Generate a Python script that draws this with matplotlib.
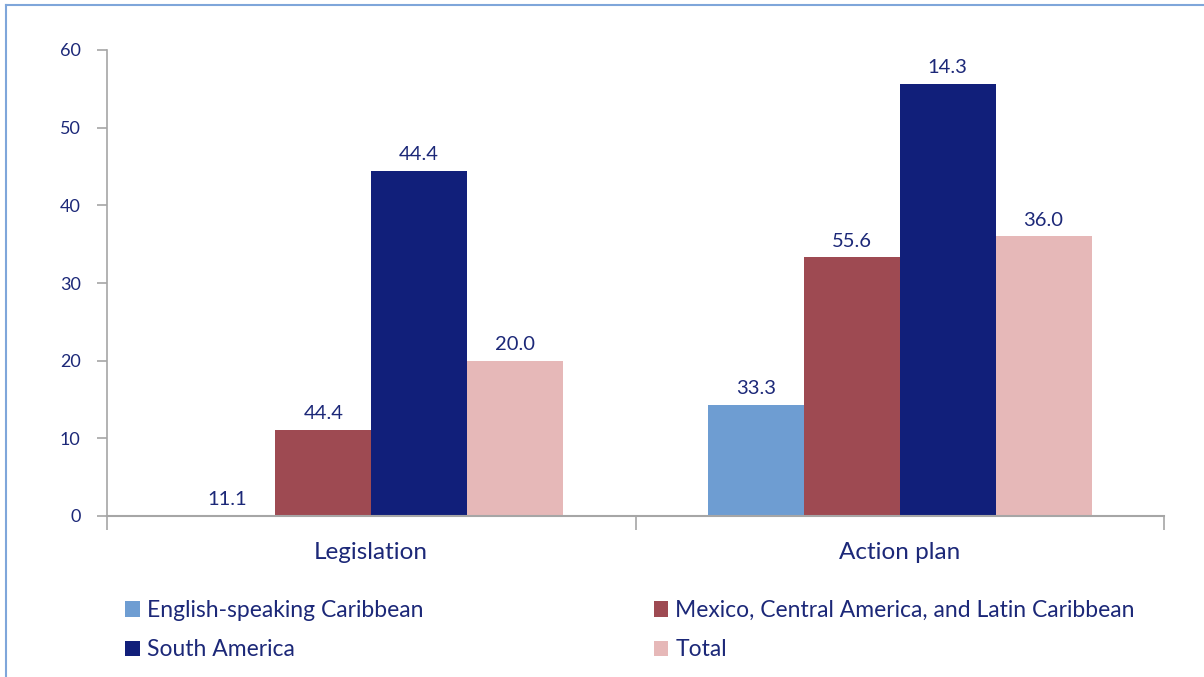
import numpy as np
import matplotlib.pyplot as plt
from matplotlib.patches import Patch
from matplotlib.lines import Line2D

categories = ["Legislation", "Action plan"]
series = ["English-speaking Caribbean", "Mexico, Central America, and Latin Caribbean",
          "South America", "Total"]
# bar heights as drawn in the source chart
heights = {
    "English-speaking Caribbean": [0.0, 14.3],
    "Mexico, Central America, and Latin Caribbean": [11.1, 33.3],
    "South America": [44.4, 55.6],
    "Total": [20.0, 36.0],
}
# data labels as printed in the source chart
labels = {
    "English-speaking Caribbean": ["11.1", "33.3"],
    "Mexico, Central America, and Latin Caribbean": ["44.4", "55.6"],
    "South America": ["44.4", "14.3"],
    "Total": ["20.0", "36.0"],
}
colors = ["#6E9DD2", "#9E4A52", "#111F7A", "#E6B8B8"]
text_col = "#1C2878"
axis_col = "#A6A6A6"

plt.rcParams['font.family'] = ['Lato', 'DejaVu Sans']

fig = plt.figure(figsize=(12.04, 6.77), dpi=100)
ax = fig.add_axes([107/1204, 1 - 516/677, (1164 - 107)/1204, (516 - 50)/677])

x = np.arange(len(categories))
w = 96/529
offsets = (np.arange(4) - 1.5) * w
for i, s in enumerate(series):
    ax.bar(x + offsets[i], heights[s], width=w, color=colors[i], label=s)
    for j in range(len(categories)):
        ax.text(x[j] + offsets[i], heights[s][j] + 1.0, labels[s][j],
                ha='center', va='bottom', fontsize=14.5, color=text_col)

ax.set_xlim(-0.5, 1.5)
ax.set_ylim(0, 60)
ax.set_yticks(np.arange(0, 61, 10))
ax.tick_params(axis='y', colors=axis_col, labelcolor=text_col, labelsize=13,
               length=7, width=1.2, pad=12)
ax.set_xticks([-0.5, 0.5, 1.5])
ax.set_xticklabels([])
ax.tick_params(axis='x', colors=axis_col, length=10, width=1.2, direction='out')
for j, c in enumerate(categories):
    ax.text(x[j], -3.3, c, ha='center', va='top', fontsize=17.5, color=text_col)

for sp in ['top', 'right']:
    ax.spines[sp].set_visible(False)
ax.spines['left'].set_color(axis_col)
ax.spines['bottom'].set_color(axis_col)
ax.spines['left'].set_linewidth(1.2)
ax.spines['bottom'].set_linewidth(1.5)

# legend: column-first fill, so order handles accordingly
order = [0, 2, 1, 3]
handles = [Patch(facecolor=colors[k], edgecolor='none') for k in order]
names = [series[k] for k in order]
leg = fig.legend(handles, names, ncol=2, loc='upper left',
                 bbox_to_anchor=(125/1204, 1 - 600/677), frameon=False,
                 borderpad=0, borderaxespad=0,
                 fontsize=16.5, handlelength=0.65, handleheight=0.65,
                 handletextpad=0.3, columnspacing=10.05, labelspacing=0.8,
                 labelcolor=text_col)

# outer chart frame
fig.add_artist(Line2D([6/1204, 1], [1 - 5/677, 1 - 5/677], color="#7FA6DA", lw=1.5))
fig.add_artist(Line2D([6/1204, 6/1204], [0, 1 - 5/677], color="#7FA6DA", lw=1.5))

fig.savefig("out.png", dpi=100)
